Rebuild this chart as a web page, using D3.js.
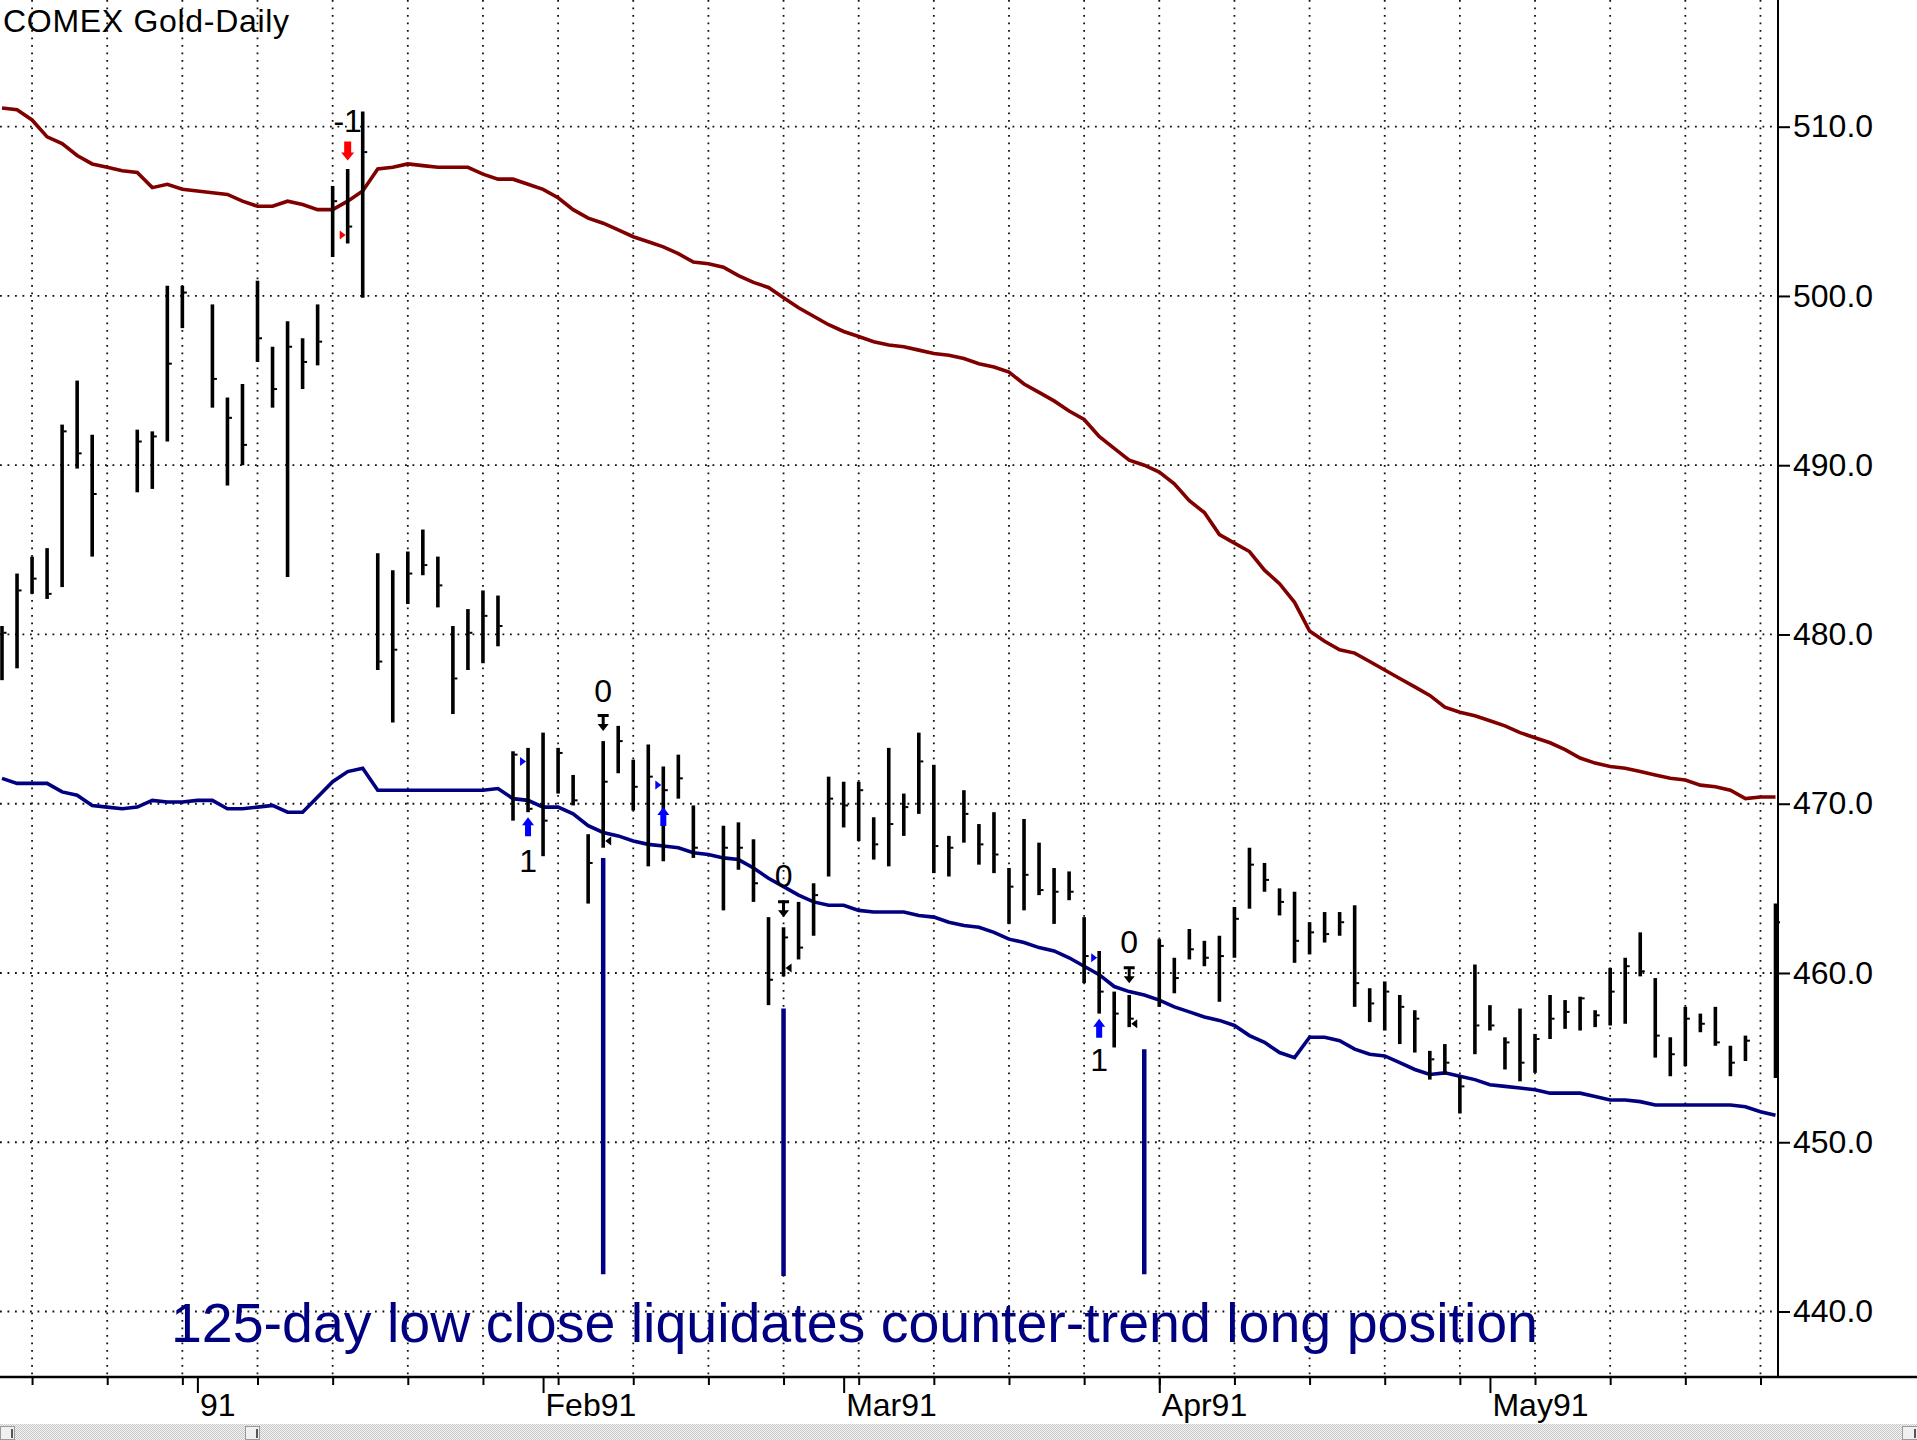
<!DOCTYPE html>
<html>
<head>
<meta charset="utf-8">
<script src="https://cdnjs.cloudflare.com/ajax/libs/d3/7.8.5/d3.min.js"></script>
<style>
body { margin: 0; background: #fff; }
svg { display: block; font-family: "Liberation Sans", Arial, sans-serif; }
</style>
</head>
<body>
<svg id="chart" width="1917" height="1440"></svg>
<script>
// one slot per weekday, 13 Dec 1990 .. 28 May 1991, null = no bar
var highs = [480.5,483.6,484.6,485.1,492.4,495.0,491.8,null,null,492.1,
  492.0,500.6,500.6,null,499.5,494.0,494.8,500.9,497.0,498.5,
  497.5,499.5,506.5,507.5,510.9,484.8,483.8,484.9,486.2,484.6,
  480.5,481.5,482.6,482.3,473.1,473.3,474.2,473.3,471.7,468.2,
  473.7,474.6,472.6,473.5,472.2,472.9,469.9,null,468.7,468.9,
  467.9,463.3,462.7,464.2,465.3,471.6,471.3,471.3,469.2,473.3,
  470.6,474.2,472.3,468.1,470.8,468.8,469.5,466.2,469.1,467.7,
  466.2,466.0,463.3,461.3,458.9,458.7,null,462.0,460.9,462.6,
  461.9,462.2,463.9,467.4,466.5,465.0,464.8,463.0,463.6,463.6,
  464.0,459.1,459.5,458.7,457.8,455.4,455.8,453.9,460.5,458.1,
  456.2,457.9,456.4,458.7,458.4,458.6,457.8,460.3,460.9,462.4,
  459.7,456.2,458.0,457.6,458.0,455.7,456.3,null,464.1];
var lows = [477.3,478.0,482.4,482.1,482.8,489.8,484.6,null,null,488.4,
  488.6,491.4,498.1,null,493.4,488.8,490.0,496.1,493.4,483.4,
  494.5,495.9,502.3,503.1,499.9,477.9,474.8,481.8,483.5,481.6,
  475.3,477.9,478.3,479.3,469.0,469.5,466.9,470.6,469.9,464.1,
  467.4,471.8,469.6,466.3,466.6,470.3,466.8,null,463.7,466.1,
  464.2,458.1,459.8,460.8,462.2,465.7,468.6,467.8,466.7,466.3,
  468.1,469.4,465.9,465.7,467.7,466.4,465.9,462.9,463.7,464.6,
  462.9,464.3,459.4,457.6,455.6,456.8,null,458.0,458.8,460.8,
  460.4,458.3,460.9,463.8,464.8,463.4,460.6,461.1,461.8,462.2,
  458.0,457.1,456.6,455.8,455.3,453.7,454.0,451.7,455.2,456.6,
  454.3,453.6,454.1,456.1,456.7,456.6,456.8,456.9,457.0,459.8,
  455.0,453.9,454.5,456.5,455.7,453.9,454.8,null,453.8];
var closes = [480.1,482.6,483.3,482.4,492.0,490.7,488.3,null,null,491.4,
  491.7,496.0,500.2,null,495.1,492.8,491.2,497.5,494.5,497.0,
  496.1,497.3,505.6,504.1,508.5,478.4,479.1,483.6,484.1,482.9,
  477.4,480.1,481.1,480.5,472.9,469.7,469.0,473.0,470.2,466.5,
  471.3,473.7,471.0,471.6,470.8,471.5,467.4,null,467.4,467.4,
  465.3,459.6,462.1,461.5,464.6,470.3,469.9,470.8,467.6,468.8,
  469.8,472.5,467.5,467.4,469.4,467.6,467.0,465.1,465.8,464.9,
  464.8,464.8,461.0,458.9,457.6,457.3,null,461.6,459.7,461.4,
  460.9,461.0,463.2,466.4,465.5,464.2,461.9,462.4,462.3,463.0,
  459.4,458.2,458.9,458.0,457.3,454.9,454.7,453.3,456.9,456.9,
  455.9,454.7,456.1,457.3,457.7,458.5,457.5,458.9,460.4,460.1,
  456.3,455.2,457.3,457.0,455.9,454.7,456.0,null,463.0];
var upperBand = [511.1,511.0,510.4,509.4,509.0,508.3,507.8,507.6,507.4,507.3,
  506.4,506.6,506.3,506.2,506.1,506.0,505.6,505.3,505.3,505.6,
  505.4,505.1,505.1,505.6,506.2,507.5,507.6,507.8,507.7,507.6,
  507.6,507.6,507.2,506.9,506.9,506.6,506.3,505.8,505.1,504.6,
  504.3,503.9,503.5,503.2,502.9,502.5,502.0,501.9,501.7,501.2,
  500.8,500.5,499.9,499.3,498.8,498.3,497.9,497.6,497.3,497.1,
  497.0,496.8,496.6,496.5,496.3,496.0,495.8,495.5,494.8,494.3,
  493.8,493.2,492.7,491.7,491.0,490.3,490.0,489.6,488.9,487.9,
  487.2,485.9,485.4,484.9,483.8,483.0,481.9,480.2,479.6,479.1,
  478.9,478.4,477.9,477.4,476.9,476.4,475.7,475.4,475.2,474.9,
  474.6,474.2,473.9,473.6,473.2,472.7,472.4,472.2,472.1,471.9,
  471.7,471.5,471.4,471.1,471.0,470.8,470.3,470.4,470.4];
var lowerBand = [471.5,471.2,471.2,471.2,470.7,470.5,469.9,469.8,469.7,469.8,
  470.2,470.1,470.1,470.2,470.2,469.7,469.7,469.8,469.9,469.5,
  469.5,470.4,471.3,471.9,472.1,470.8,470.8,470.8,470.8,470.8,
  470.8,470.8,470.8,470.9,470.3,470.2,469.8,469.8,469.4,468.7,
  468.3,468.1,467.8,467.6,467.5,467.4,467.1,467.0,466.8,466.7,
  466.2,465.6,465.1,464.6,464.2,464.0,464.0,463.7,463.6,463.6,
  463.6,463.4,463.3,463.0,462.8,462.7,462.4,462.0,461.8,461.5,
  461.3,460.9,460.4,459.9,459.2,458.9,458.7,458.4,458.0,457.7,
  457.4,457.2,456.9,456.3,455.9,455.3,455.0,456.2,456.2,456.0,
  455.5,455.2,455.1,454.7,454.3,454.0,454.1,453.9,453.7,453.4,
  453.3,453.2,453.1,452.9,452.9,452.9,452.7,452.5,452.5,452.4,
  452.2,452.2,452.2,452.2,452.2,452.2,452.1,451.8,451.6];

var yTicks = [440, 450, 460, 470, 480, 490, 500, 510];
var weekTicks = [2,7,12,17,22,27,32,37,42,47,52,57,62,67,72,77,82,87,92,97,102,107,112,117];
var monthTicks = [13, 36, 56, 77, 99];
var monthLabels = ["91", "Feb91", "Mar91", "Apr91", "May91"];

// trade signals: [slot, price]
var entryArrows = [[35, 469.2], [44, 469.8], [73, 457.3]];
var entryTicks = [[35, 472.5], [44, 471.1], [73, 460.9]];
var entryLabels = [[35, 465.95, "1"], [73, 454.2, "1"]];
var exitLabels = [[40, 476.0, "0"], [52, 465.1, "0"], [75, 461.2, "0"]];
var exitArrows = [[40, 474.3], [52, 463.3], [75, 459.4]];
var exitTicks = [[40, 467.8], [52, 460.3], [75, 457.0]];
var shortArrow = [23, 508.0];
var shortTick = [23, 503.6];
var shortLabel = [23, 509.7, "-1"];
var liquidations = [[40, 466.8, 442.2], [52, 457.9, 442.1], [76, 455.5, 442.2]];
var noteText = "125-day low close liquidates counter-trend long position";

var svg = d3.select("#chart");
var axisX = 1778, axisY = 1377;
var x = d3.scaleLinear().domain([0, 118]).range([2, 1775.5]);
var y = d3.scaleLinear().domain([440, 510]).range([1311.5, 126.7]);

// dotted grid
var grid = svg.append("g").attr("stroke", "#111").attr("stroke-width", 1.8).attr("stroke-dasharray", "1.8 5.7");
grid.selectAll(".vg").data(weekTicks).enter().append("line")
  .attr("x1", d => x(d)).attr("x2", d => x(d)).attr("y1", 0).attr("y2", axisY);
grid.selectAll(".hg").data(yTicks).enter().append("line")
  .attr("x1", 0).attr("x2", axisX).attr("y1", d => y(d)).attr("y2", d => y(d));

// bands
var bandLine = d3.line().x((d, i) => x(i)).y(d => y(d));
svg.append("path").attr("d", bandLine(upperBand)).attr("fill", "none")
  .attr("stroke", "#800000").attr("stroke-width", 3.6);
svg.append("path").attr("d", bandLine(lowerBand)).attr("fill", "none")
  .attr("stroke", "#000080").attr("stroke-width", 3.6);

// liquidation markers
svg.selectAll(".liq").data(liquidations).enter().append("line")
  .attr("x1", d => x(d[0])).attr("x2", d => x(d[0]))
  .attr("y1", d => y(d[1])).attr("y2", d => y(d[2]))
  .attr("stroke", "#000080").attr("stroke-width", 4.5);

// price bars
var slots = d3.range(highs.length).filter(i => highs[i] != null);
var bars = svg.append("g");
bars.selectAll(".hl").data(slots).enter().append("line")
  .attr("x1", i => x(i)).attr("x2", i => x(i))
  .attr("y1", i => y(highs[i])).attr("y2", i => y(lows[i]))
  .attr("stroke", "#000").attr("stroke-width", 3.6);
bars.selectAll(".cl").data(slots).enter().append("line")
  .attr("x1", i => x(i) + 1.5).attr("x2", i => x(i) + 4.5)
  .attr("y1", i => y(closes[i])).attr("y2", i => y(closes[i]))
  .attr("stroke", "#000").attr("stroke-width", 2);

// signal glyphs
function upArrow(cx, tip) {
  return `M${cx},${tip} l6,8 h-3 v11 h-6 v-11 h-3 z`;
}
function downArrow(cx, tip) {
  return `M${cx},${tip} l6.5,-8 h-3 v-11 h-7 v11 h-3 z`;
}
function barArrow(cx, tip) {
  return `M${cx},${tip} l5.5,-7 h-4 v-7 h4 v-3 h-11 v3 h4 v7 h-4 z`;
}
svg.selectAll(".ea").data(entryArrows).enter().append("path")
  .attr("d", d => upArrow(x(d[0]), y(d[1]))).attr("fill", "#0000ff");
svg.selectAll(".et").data(entryTicks).enter().append("path")
  .attr("d", d => `M${x(d[0]) - 8},${y(d[1]) - 4.5} l6,4.5 l-6,4.5 z`).attr("fill", "#0000ff");
svg.selectAll(".xa").data(exitArrows).enter().append("path")
  .attr("d", d => barArrow(x(d[0]), y(d[1]))).attr("fill", "#000");
svg.selectAll(".xt").data(exitTicks).enter().append("path")
  .attr("d", d => `M${x(d[0]) + 2},${y(d[1])} l6,-4.5 v9 z`).attr("fill", "#000");
svg.append("path").attr("d", downArrow(x(shortArrow[0]), y(shortArrow[1]))).attr("fill", "#ff0000");
svg.append("path").attr("d", `M${x(shortTick[0]) - 8},${y(shortTick[1]) - 4.5} l6,4.5 l-6,4.5 z`).attr("fill", "#ff0000");

svg.selectAll(".lab").data(entryLabels.concat(exitLabels, [shortLabel])).enter().append("text")
  .attr("x", d => x(d[0])).attr("y", d => y(d[1]))
  .attr("text-anchor", "middle").attr("font-size", 32).attr("fill", "#000")
  .text(d => d[2]);

// axes
var yAxis = d3.axisRight(y).tickValues(yTicks).tickSize(12).tickPadding(3).tickFormat(d3.format(".1f"));
svg.append("g").attr("transform", `translate(${axisX},0)`).call(yAxis)
  .call(g => g.select(".domain").remove())
  .call(g => g.selectAll("line").attr("stroke-width", 2))
  .call(g => g.selectAll("text").attr("fill", "#000"))
  .attr("font-family", null).attr("font-size", 32);

svg.append("g").attr("transform", `translate(0,${axisY})`)
  .call(d3.axisBottom(x).tickValues(weekTicks).tickSize(8).tickFormat(""))
  .call(g => g.select(".domain").remove())
  .call(g => g.selectAll("line").attr("stroke-width", 2));
svg.append("g").attr("transform", `translate(0,${axisY})`)
  .call(d3.axisBottom(x).tickValues(monthTicks).tickSize(16).tickPadding(0).tickFormat((d, k) => monthLabels[k]))
  .call(g => g.select(".domain").remove())
  .call(g => g.selectAll("line").attr("stroke-width", 2))
  .call(g => g.selectAll("text").attr("text-anchor", "start").attr("dx", 2).attr("fill", "#000"))
  .attr("font-family", null).attr("font-size", 32);

svg.append("line").attr("x1", axisX).attr("x2", axisX).attr("y1", 0).attr("y2", axisY)
  .attr("stroke", "#000").attr("stroke-width", 2);
svg.append("line").attr("x1", 0).attr("x2", 1917).attr("y1", axisY).attr("y2", axisY)
  .attr("stroke", "#000").attr("stroke-width", 2.5);

// texts
svg.append("text").attr("x", 3).attr("y", 32).attr("font-size", 32).attr("letter-spacing", 0.7)
  .attr("fill", "#000").text("COMEX Gold-Daily");
svg.append("text").attr("x", 171).attr("y", 1342).attr("font-size", 56).attr("fill", "#000080")
  .attr("textLength", 1367).attr("lengthAdjust", "spacingAndGlyphs").text(noteText);

// scroll bar strip
var defs = svg.append("defs");
var pat = defs.append("pattern").attr("id", "dith").attr("width", 2).attr("height", 2)
  .attr("patternUnits", "userSpaceOnUse");
pat.append("rect").attr("width", 2).attr("height", 2).attr("fill", "#f4f4f4");
pat.append("rect").attr("width", 1).attr("height", 1).attr("fill", "#c8c8c8");
pat.append("rect").attr("x", 1).attr("y", 1).attr("width", 1).attr("height", 1).attr("fill", "#c8c8c8");
svg.append("rect").attr("x", 0).attr("y", 1424).attr("width", 1917).attr("height", 16).attr("fill", "url(#dith)");
[[0, 14], [245, 14], [1902, 15]].forEach(function(b) {
  svg.append("rect").attr("x", b[0] + 0.5).attr("y", 1426.5).attr("width", b[1]).attr("height", 13)
    .attr("fill", "#f0f0f0").attr("stroke", "#9a9a9a");
  svg.append("line").attr("x1", b[0] + b[1] - 2).attr("x2", b[0] + b[1] - 2).attr("y1", 1429).attr("y2", 1438)
    .attr("stroke", "#222").attr("stroke-width", 1.5);
});
</script>
</body>
</html>
